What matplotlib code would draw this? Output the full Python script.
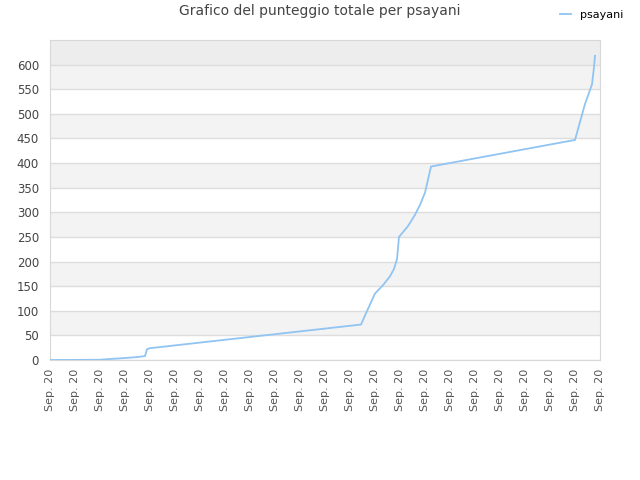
import matplotlib
matplotlib.use('Agg')
import matplotlib.pyplot as plt

# score progression (x = position along the date axis)
x_pos = [0, 2.0, 2.4, 3.0, 3.5, 3.8, 3.88, 4.0, 12.44, 12.64, 13.0, 13.32,
         13.6, 13.76, 13.88, 13.96, 14.32, 14.6, 14.8, 15.0, 15.24, 21.0,
         21.4, 21.68, 21.76, 21.8]
scores = [0, 0.5, 2, 4, 6, 8, 22, 24, 72, 95, 135, 152,
          170, 185, 205, 250, 272, 295, 315, 340, 393, 447,
          520, 560, 595, 618]
tick_labels = ['Sep. 20'] * 23
yticks = list(range(0, 601, 50))

fig = plt.figure(figsize=(6.4, 4.8), dpi=100)
ax = fig.add_axes([50 / 640, 120 / 480, 550 / 640, 320 / 480])

# alternating bands
for lo in range(0, 650, 50):
    if lo == 600:
        col = '#ededed'
    elif (lo // 50) % 2 == 1:
        col = '#f3f3f3'
    else:
        col = 'white'
    ax.axhspan(lo, lo + 50, color=col, zorder=0, lw=0)
for y in yticks:
    ax.axhline(y, color='#dddddd', lw=1, zorder=1)

ax.plot(x_pos, scores, color='#90c4f2', lw=1.3, zorder=3, label='psayani')

ax.set_xlim(0, 22)
ax.set_ylim(0, 650)
ax.set_yticks(yticks)
ax.set_xticks(range(len(tick_labels)))
ax.set_xticklabels(tick_labels, rotation=90, fontsize=8, color='#555555')
ax.tick_params(axis='y', labelsize=8.5, labelcolor='#444444', length=0, pad=8)
ax.tick_params(axis='x', length=0, pad=6)
for s in ax.spines.values():
    s.set_color('#d8d8d8')

fig.suptitle('Grafico del punteggio totale per psayani', fontsize=10,
             color='#444444', y=0.992)
fig.legend(loc='upper right', bbox_to_anchor=(0.99, 1.0), frameon=False,
           fontsize=8, handlelength=1.0)

fig.savefig('out.png')
